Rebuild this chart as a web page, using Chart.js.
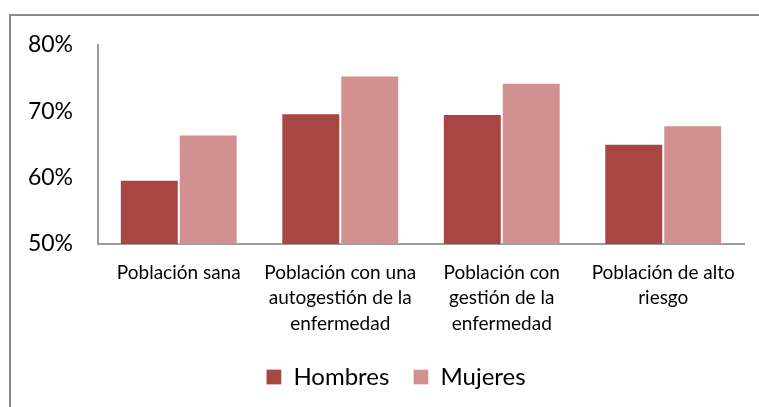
<!DOCTYPE html>
<html>
<head>
<meta charset="utf-8">
<script src="https://cdn.jsdelivr.net/npm/chart.js@4"></script>
<style>
  html, body { margin: 0; padding: 0; background: #fff; }
  #wrap { position: relative; width: 759px; height: 407px; overflow: hidden; }
  #frame { position: absolute; left: 9px; top: 14px; width: 800px; height: 450px;
           border-top: 2px solid #8a8a8a; border-left: 2px solid #8a8a8a; }
  canvas { position: absolute; left: 0; top: 0; }
</style>
</head>
<body>
<div id="wrap">
  <div id="frame"></div>
  <canvas id="c" width="759" height="407"></canvas>
</div>
<script>
const categories = [
  ["Población sana"],
  ["Población con una", "autogestión de la", "enfermedad"],
  ["Población con", "gestión de la", "enfermedad"],
  ["Población de alto", "riesgo"]
];
const seriesNames = ["Hombres", "Mujeres"];
const hombres = [59.7, 69.7, 69.6, 65.1];
const mujeres = [66.5, 75.4, 74.3, 67.9];
const yTicks = [50, 60, 70, 80];

const FONT = "Lato, 'Noto Sans', sans-serif";

const legendShift = {
  id: 'legendShift',
  afterLayout(chart) {
    if (chart.legend) { chart.legend.left += 24; chart.legend.right += 24; }
  }
};

new Chart(document.getElementById('c'), {
  type: 'bar',
  data: {
    labels: categories,
    datasets: [
      { label: seriesNames[0], data: hombres, backgroundColor: '#A84644',
        borderColor: 'rgba(255,255,255,0.25)', borderWidth: 1,
        categoryPercentage: 0.73, barPercentage: 1.0 },
      { label: seriesNames[1], data: mujeres, backgroundColor: '#D29190',
        borderColor: 'rgba(255,255,255,0.35)', borderWidth: 1,
        categoryPercentage: 0.73, barPercentage: 1.0 }
    ]
  },
  plugins: [legendShift],
  options: {
    responsive: false,
    animation: false,
    layout: { padding: { left: 0, right: 15, top: 45, bottom: 8 } },
    plugins: {
      tooltip: { enabled: false },
      legend: {
        position: 'bottom',
        labels: {
          font: { family: FONT, size: 24 },
          color: '#000',
          boxWidth: 15, boxHeight: 15,
          padding: 24
        }
      }
    },
    scales: {
      x: {
        grid: { display: false },
        border: { display: true, color: '#9a9a9a', width: 2 },
        ticks: {
          font: { family: FONT, size: 19, lineHeight: 1.34 },
          color: '#000',
          maxRotation: 0, minRotation: 0, autoSkip: false,
          padding: 8
        },
        afterFit: (s) => { s.height = 97; }
      },
      y: {
        min: 50, max: 80,
        grid: { display: false },
        border: { display: true, color: '#9a9a9a', width: 2 },
        afterBuildTicks: (s) => { s.ticks = yTicks.map(v => ({ value: v })); },
        ticks: {
          font: { family: FONT, size: 23 },
          color: '#000',
          padding: 17,
          callback: (v) => v + '%'
        },
        afterFit: (s) => { s.width = 98; }
      }
    }
  }
});
</script>
</body>
</html>
